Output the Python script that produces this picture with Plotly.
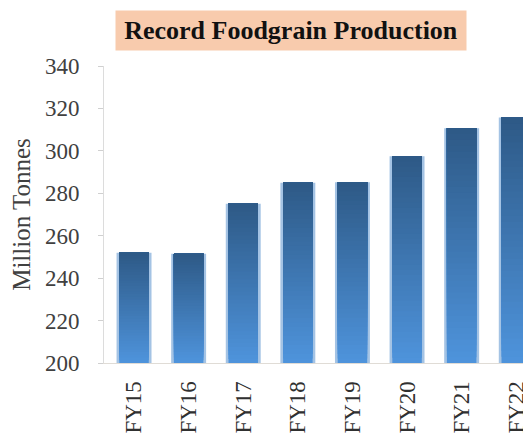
import plotly.graph_objects as go

categories = ["FY15", "FY16", "FY17", "FY18", "FY19", "FY20", "FY21", "FY22"]
production = [252.0, 251.5, 275.1, 285.0, 285.2, 297.5, 310.7, 315.7]
y_ticks = [200, 220, 240, 260, 280, 300, 320, 340]
title_text = "Record Foodgrain Production"
y_title = "Million Tonnes"

BASE = 200
N_SEG = 40
top_rgb = (46, 90, 135)
bot_rgb = (78, 147, 219)

fig = go.Figure()

# soft lighter edge behind each bar
fig.add_trace(go.Bar(
    x=categories, y=[v - BASE for v in production], base=BASE,
    width=0.64, marker=dict(color="rgba(90,145,205,0.55)", line=dict(width=0)),
    hoverinfo="skip", showlegend=False,
))

# vertical gradient: overlapping slices, each from its start up to the bar top
for k in range(N_SEG):
    t = k / (N_SEG - 1)  # 0 bottom -> 1 top
    c = tuple(round(bot_rgb[i] + (top_rgb[i] - bot_rgb[i]) * t) for i in range(3))
    bases = [BASE + k * (v - BASE) / N_SEG for v in production]
    heights = [v - b for v, b in zip(production, bases)]
    fig.add_trace(go.Bar(
        x=categories, y=heights, base=bases, width=0.54,
        marker=dict(color="rgb(%d,%d,%d)" % c, line=dict(width=0)),
        hoverinfo="skip", showlegend=False,
    ))

fig.update_layout(
    width=523, height=430,
    margin=dict(l=96, r=0, t=58, b=75),
    paper_bgcolor="white", plot_bgcolor="white",
    barmode="overlay",
    font=dict(family="Liberation Serif", color="#404040"),
    annotations=[dict(
        text="<b>%s</b>" % title_text,
        xref="paper", yref="paper", x=0.438, y=1.1195,
        xanchor="center", yanchor="middle",
        showarrow=False, width=348, height=37,
        bgcolor="#f8cbad",
        font=dict(family="Liberation Serif", size=26, color="#111111"),
    )],
)

fig.update_xaxes(
    type="category", range=[-0.55, 7.27], automargin=False,
    showline=True, linecolor="#e0dcd6", linewidth=1,
    ticks="", tickangle=-90, ticklabelstandoff=8,
    tickfont=dict(family="Liberation Serif", size=23, color="#303030"),
    showgrid=False,
)
fig.update_yaxes(
    range=[200, 340], tickvals=y_ticks, automargin=False,
    showline=True, linecolor="#dcdcdc", linewidth=1,
    ticks="outside", ticklen=5, tickcolor="#d0d0d0",
    tickfont=dict(family="Liberation Serif", size=23, color="#404040"),
    ticklabelstandoff=14,
    showgrid=False, zeroline=False,
    title=dict(text=y_title, font=dict(family="Liberation Serif", size=25, color="#404040"), standoff=10),
)

fig.write_html("out.html")
